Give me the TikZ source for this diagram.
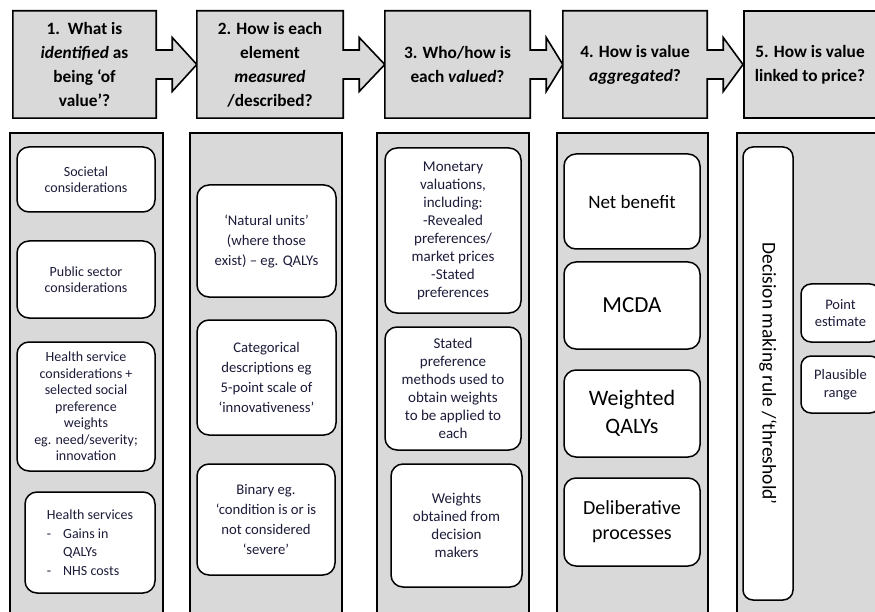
\documentclass[tikz,border=0pt]{standalone}
\usepackage{fontspec}
\setmainfont{Carlito}
\usetikzlibrary{calc}
\definecolor{boxgrey}{RGB}{217,217,217}
\definecolor{inktext}{RGB}{28,28,58}

\begin{document}
\begin{tikzpicture}[x=1pt,y=-1pt,
  hdr/.style={inner sep=0pt, minimum height=107pt},
  hdrline/.style={line width=1.6pt, fill=boxgrey, line join=miter},
  hdrtext/.style={align=center, font=\fontsize{17.3}{24}\selectfont\bfseries},
  colbox/.style={draw, line width=1.6pt, fill=boxgrey, inner sep=0pt, anchor=north, minimum height=520pt},
  ibox/.style={draw, line width=1.5pt, fill=white, rounded corners=12pt, inner sep=0pt, align=center, text=inktext},
  smalltxt/.style={font=\fontsize{14}{16.5}\selectfont},
  midtxt/.style={font=\fontsize{14.7}{20}\selectfont},
  bigtxt/.style={font=\fontsize{19}{25}\selectfont, text=black}]
\useasboundingbox (0,0) rectangle (875,612);
\clip (0,0) rectangle (875,612);

% header boxes
\node[hdr, minimum width=143pt] (h1) at (84.5,64.5) {};
\node[hdr, minimum width=146pt] (h2) at (270,64.5) {};
\node[hdr, minimum width=145pt] (h3) at (457.5,64.5) {};
\node[hdr, minimum width=144pt] (h4) at (635,64.5) {};
\node[hdr, draw, line width=1.6pt, fill=boxgrey, minimum width=150pt, anchor=west] (h5) at (743,64.5) {};

% each box with its arrow to the next one
\foreach \a/\b in {h1/h2, h2/h3, h3/h4, h4/h5} {
  \filldraw[hdrline] (\a.north west) -- (\a.north east) -- ($(\a.east)+(0,-14.5)$) -- ($(\a.east)+(16,-14.5)$)
    -- ($(\a.east)+(16,-27)$) -- (\b.west) -- ($(\a.east)+(16,27)$) -- ($(\a.east)+(16,14.5)$)
    -- ($(\a.east)+(0,14.5)$) -- (\a.south east) -- (\a.south west) -- cycle;
}

\node[hdrtext] (t1) at (h1) {1.\ \ What is\\\textit{identified} as\\being ‘of\\value’?};
\node[hdrtext] (t2) at (h2) {2. How is each\\element\\\textit{measured}\\/described?};
\node[hdrtext] (t3) at (h3) {3. Who/how is\\each \textit{valued}?};
\node[hdrtext] (t4) at (h4) {4. How is value\\\textit{aggregated}?};
\node[hdrtext] (t5) at (810,64.5) {5. How is value\\linked to price?};

% columns
\node[colbox, minimum width=153pt] (c1) at (86.5,132) {};
\node[colbox, minimum width=152pt] (c2) at (266,132) {};
\node[colbox, minimum width=152pt] (c3) at (453,132) {};
\node[colbox, minimum width=151pt] (c4) at (632.5,132) {};
\node[colbox, minimum width=160pt, anchor=north west] (c5) at (736,132) {};

% column 1
\node[ibox, smalltxt, minimum width=138pt, minimum height=65pt] (soc) at (86,179.5) {Societal\\considerations};
\node[ibox, smalltxt, minimum width=138pt, minimum height=77pt] (pub) at (86,279.5) {Public sector\\considerations};
\node[ibox, smalltxt, minimum width=138pt, minimum height=129pt] (hsc) at (86,406.5)
  {Health service\\considerations +\\selected social\\preference\\weights\\eg. need/severity;\\innovation};
\node[ibox, font=\fontsize{14}{18.5}\selectfont, align=left, minimum width=130pt, minimum height=101pt] (hs) at (90,542.5)
  {Health services\\-\hspace{12pt}Gains in\\\hphantom{-}\hspace{12pt}QALYs\\-\hspace{12pt}NHS costs};

% column 2
\node[ibox, midtxt, minimum width=139pt, minimum height=112pt] (nat) at (266.5,241)
  {‘Natural units’\\(where those\\exist) – eg. QALYs};
\node[ibox, midtxt, minimum width=139pt, minimum height=115pt] (cat) at (266.5,377.5)
  {Categorical\\descriptions eg\\5-point scale of\\‘innovativeness’};
\node[ibox, midtxt, minimum width=138pt, minimum height=111pt] (bin) at (266,519.5)
  {Binary eg.\\‘condition is or is\\not considered\\‘severe’};

% column 3
\node[ibox, font=\fontsize{15}{18}\selectfont, minimum width=136pt, minimum height=165pt] (mon) at (453,230.5)
  {Monetary\\valuations,\\including:\\-Revealed\\preferences/\\market prices\\-Stated\\preferences};
\node[ibox, font=\fontsize{15}{18}\selectfont, minimum width=136pt, minimum height=123pt] (sta) at (453,388.5)
  {Stated\\preference\\methods used to\\obtain weights\\to be applied to\\each};
\node[ibox, font=\fontsize{15}{18}\selectfont, minimum width=131pt, minimum height=123pt] (wei) at (456.5,525.5)
  {Weights\\obtained from\\decision\\makers};

% column 4
\node[ibox, bigtxt, minimum width=136pt, minimum height=95pt] (net) at (632,201.5) {Net benefit};
\node[ibox, bigtxt, font=\fontsize{23}{28}\selectfont, minimum width=136pt, minimum height=87pt] (mcda) at (632,305.5) {MCDA};
\node[ibox, bigtxt, font=\fontsize{22}{28}\selectfont, minimum width=136pt, minimum height=87pt] (wq) at (632,413.5) {Weighted\\QALYs};
\node[ibox, bigtxt, font=\fontsize{20}{25}\selectfont, minimum width=136pt, minimum height=88pt] (del) at (632,522) {Deliberative\\processes};

% column 5
\node[ibox, bigtxt, font=\fontsize{19.5}{22}\selectfont, rotate=-90, rounded corners=10pt,
  minimum width=453pt, minimum height=50pt] (dec) at (768,373.5) {Decision making rule /‘threshold’};
\node[ibox, font=\fontsize{14.5}{17.5}\selectfont, rounded corners=10pt, minimum width=79pt, minimum height=58pt] (pt) at (840.5,313) {Point\\estimate};
\node[ibox, font=\fontsize{14.5}{17.5}\selectfont, rounded corners=10pt, minimum width=79pt, minimum height=57pt] (pr) at (840.5,384.5) {Plausible\\range};
\end{tikzpicture}
\end{document}
